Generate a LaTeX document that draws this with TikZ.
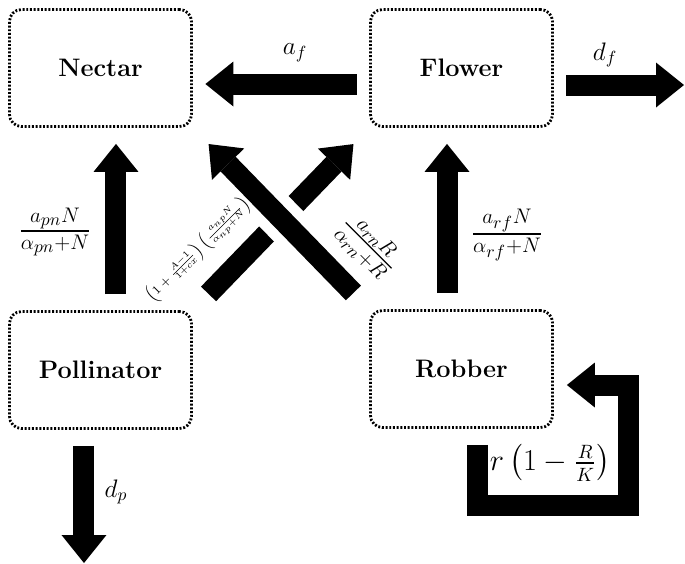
\documentclass[tikz,border=0pt]{standalone}
\usepackage{amsmath}
\usetikzlibrary{arrows.meta}
\tikzset{
  box/.style={draw, rounded corners=0.24cm, line width=1.6pt, dash pattern=on 1.1pt off 1.0pt, minimum width=3.64cm, minimum height=2.34cm, font=\Large\bfseries},
  flow/.style={-{Triangle[width=0.9cm, length=0.56cm, line width=0pt]}, line width=0.42cm, shorten <=0.32cm, shorten >=0.32cm},
  hflow/.style={flow, shorten <=0.25cm, shorten >=0.25cm},
  diag/.style={flow, shorten <=0.45cm, shorten >=0.45cm},
  over/.style={preaction={draw=white, -, line width=0.84cm, shorten <=1.8cm, shorten >=1.8cm}},
  lbl/.style={font=\Large, inner sep=0pt},
  fraclbl/.style={font=\LARGE, inner sep=0pt},
  smalllbl/.style={font=\scriptsize, inner sep=0pt},
}
\begin{document}
\begin{tikzpicture}[x=1cm,y=1cm]
  \useasboundingbox (0,0) rectangle (13.700,-11.280);
  \node[box] (nectar) at (2.010,-1.360) {Nectar};
  \node[box] (flower) at (9.230,-1.360) {Flower};
  \node[box] (poll) at (2.010,-7.400) {Pollinator};
  \node[box] (robber) at (9.230,-7.380) {Robber};
  \coordinate (fout) at (13.680,-1.700);
  \coordinate (pout) at (1.680,-11.260);
  \draw[hflow] ([yshift=-0.32cm]flower.west) -- ([yshift=-0.32cm]nectar.east);
  \draw[hflow, shorten >=0pt] ([yshift=-0.34cm]flower.east) -- (fout);
  \draw[flow] ([xshift=0.31cm]poll.north) -- ([xshift=0.31cm]nectar.south);
  \draw[flow] ([xshift=-0.29cm]robber.north) -- ([xshift=-0.29cm]flower.south);
  \draw[flow, shorten >=0pt] ([xshift=-0.33cm]poll.south) -- (pout);
  \draw[diag] (poll.north east) -- (flower.south west);
  \draw[diag, over] (robber.north west) -- (nectar.south east);
  \draw[flow, shorten <=0pt, shorten >=0pt] ([xshift=0.31cm,yshift=-0.32cm]robber.south) -- ++(0,-1.220) -- ++(3.020,0) |- ([xshift=0.26cm,yshift=-0.32cm]robber.east);
  \node[lbl] (af) at (5.900,-1.060) {$a_f$};
  \node[lbl] (df) at (12.100,-1.100) {$d_f$};
  \node[lbl] (dp) at (2.320,-9.840) {$d_p$};
  \node[fraclbl] (apn) at (1.100,-4.640) {$\frac{a_{pn}N}{\alpha_{pn}+N}$};
  \node[fraclbl] (arf) at (10.140,-4.700) {$\frac{a_{rf}N}{\alpha_{rf}+N}$};
  \node[fraclbl, rotate=-45] (arn) at (7.360,-4.920) {$\frac{a_{rn}R}{\alpha_{rn}+R}$};
  \node[smalllbl, rotate=45] (apf) at (3.960,-5.000) {$\left(1+\frac{A-1}{1+cx}\right)\left(\frac{a_{np}N}{\alpha_{np}+N}\right)$};
  \node[inner sep=0pt, font=\fontsize{16}{19}\selectfont] (rr) at (11.000,-9.260) {$r\left(1-\frac{R}{K}\right)$};
\end{tikzpicture}
\end{document}
